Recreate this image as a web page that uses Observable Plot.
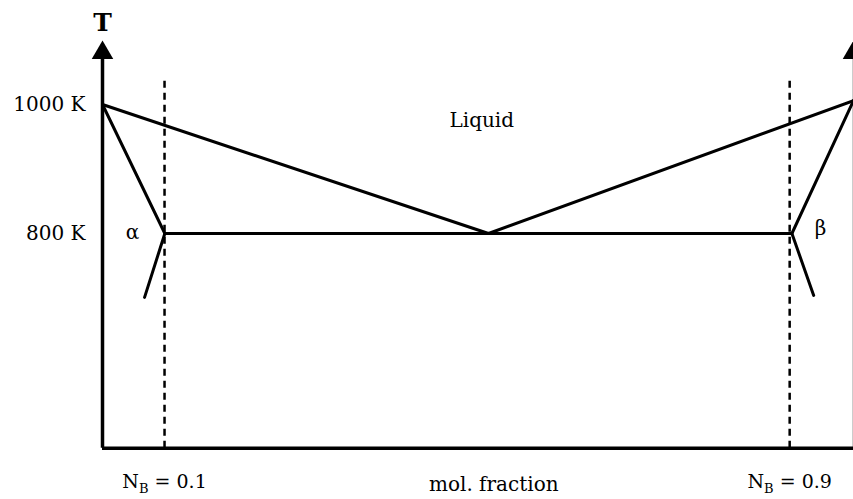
<!DOCTYPE html>
<html><head><meta charset="utf-8">
<script src="https://cdn.jsdelivr.net/npm/d3@7"></script>
<script src="https://cdn.jsdelivr.net/npm/@observablehq/plot@0.6"></script>
<style>body{margin:0;background:#fff} #chart svg{font-family:"DejaVu Serif", serif; background:#fff}</style>
</head><body><div id="chart"></div>
<script>
// Temperature (K) and composition (mole fraction) values read from the schematic
const axisBottomT = 467;
const axisTopT = 1072;
const arrowT = 1080;
const liquidus = [{x: 0, T: 1000}, {x: 0.514, T: 800}, {x: 1, T: 1006}];
const alphaBoundary = [{x: 0, T: 1000}, {x: 0.083, T: 800}, {x: 0.056, T: 701}];
const betaBoundary = [{x: 1, T: 1006}, {x: 0.918, T: 800}, {x: 0.947, T: 704}];
const eutecticLine = [{x: 0.083, T: 800}, {x: 0.918, T: 800}];
const dashedX = [0.0826, 0.915];
const dashedTopT = [1037, 1040];
const yTicks = [800, 1000];
const yTickLabels = ["800 K", "1000 K"];
const xTickLabels = ["N_B = 0.1", "N_B = 0.9"];
const phaseLabels = [
  {x: 0.505, T: 975, text: "Liquid"},
  {x: 0.040, T: 801, text: "α"},
  {x: 0.956, T: 808, text: "β"}
];
const yTitle = [{x: 0, T: 1127, text: "T"}];
const xTitle = [{x: 0.521, T: 411, text: "mol. fraction"}];

const dashed = dashedX.map((x, i) => ({x, T1: axisBottomT, T2: dashedTopT[i]}));

const svg = Plot.plot({
  width: 853,
  height: 499,
  marginLeft: 102,
  marginRight: 0,
  marginTop: 0,
  marginBottom: 51,
  style: {fontFamily: "DejaVu Serif, serif", fontSize: "20px", background: "#fff"},
  x: {domain: [0, 1], range: [102, 853], axis: null},
  y: {domain: [800, 1000], range: [233, 104], axis: null},
  marks: [
    Plot.ruleX([0], {y1: axisBottomT, y2: axisTopT, stroke: "black", strokeWidth: 3.5}),
    Plot.ruleX([1], {y1: axisBottomT, y2: axisTopT, stroke: "#999", strokeWidth: 2}),
    Plot.ruleY([axisBottomT], {x1: 0, x2: 1, stroke: "black", strokeWidth: 3.5}),
    Plot.dot([{x: 0, T: arrowT}, {x: 1, T: arrowT}], {x: "x", y: "T", symbol: "triangle", r: 8, fill: "black", stroke: null}),
    Plot.ruleX(dashed, {x: "x", y1: "T1", y2: "T2", stroke: "black", strokeWidth: 2.5, strokeDasharray: "7,5"}),
    Plot.line(liquidus, {x: "x", y: "T", stroke: "black", strokeWidth: 3}),
    Plot.line(alphaBoundary, {x: "x", y: "T", stroke: "black", strokeWidth: 3}),
    Plot.line(betaBoundary, {x: "x", y: "T", stroke: "black", strokeWidth: 3}),
    Plot.line(eutecticLine, {x: "x", y: "T", stroke: "black", strokeWidth: 3}),
    Plot.axisY({ticks: yTicks, tickFormat: d => yTickLabels[yTicks.indexOf(d)], tickSize: 0, tickPadding: 17, label: null, fontSize: 20}),
    Plot.axisX({ticks: dashedX, tickFormat: d => xTickLabels[dashedX.indexOf(d)], tickSize: 0, tickPadding: 26, label: null, fontSize: 19}),
    Plot.text(phaseLabels, {x: "x", y: "T", text: "text", fontSize: 20}),
    Plot.text(yTitle, {x: "x", y: "T", text: "text", fontSize: 25, fontWeight: "bold"}),
    Plot.text(xTitle, {x: "x", y: "T", text: "text", fontSize: 20})
  ]
});

d3.select(svg).selectAll('g[aria-label="x-axis tick label"] text').each(function() {
  const t = this.textContent;
  const m = t.match(/^(.*)_(.)(.*)$/);
  if (!m) return;
  const sel = d3.select(this);
  sel.text(null);
  sel.append("tspan").text(m[1]);
  sel.append("tspan").attr("font-size", "13px").attr("dy", 5).text(m[2]);
  sel.append("tspan").attr("dy", -5).text(m[3]);
});

document.getElementById("chart").append(svg);
</script>
</body></html>
